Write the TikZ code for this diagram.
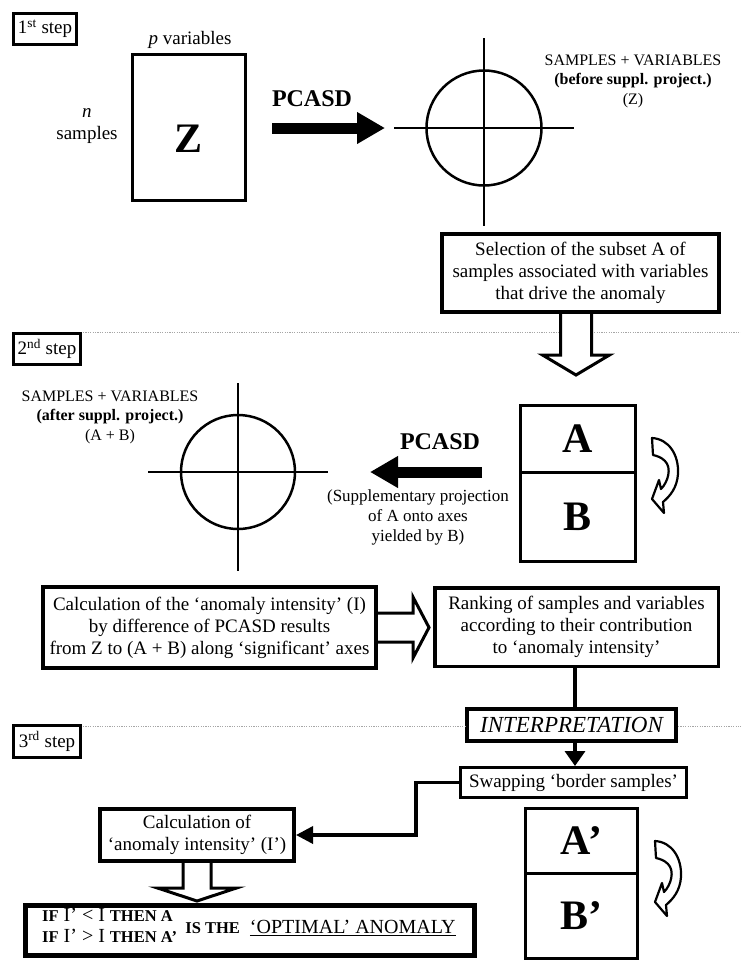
\documentclass[tikz,border=0pt]{standalone}
\usepackage{fontspec}
\setmainfont{Liberation Serif}
\usetikzlibrary{arrows.meta,calc}
\newcommand\myCurvArrow[1]{%
  \filldraw[fill=white,line width=2.2pt,line join=round,shift={#1}]
    (0,0) .. controls (17,1) and (27,17) .. (26,36)
    .. controls (25,50) and (18,58) .. (11,64)
    -- (12,75) -- (0,61) -- (7,42) -- (9,51)
    .. controls (16,44) and (20,30) .. (13,23)
    .. controls (9,19) and (5,18) .. (1,17) -- cycle;}
\begin{document}
\begin{tikzpicture}[x=1pt,y=-1pt,
  body/.style={font=\fontsize{19}{22}\selectfont},
  smallt/.style={font=\fontsize{16}{19.5}\selectfont,align=center},
  supp/.style={font=\fontsize{17}{20}\selectfont,align=center},
  pcasd/.style={font=\fontsize{24}{26}\selectfont\bfseries},
  big/.style={font=\fontsize{42}{44}\selectfont\bfseries},
  stepbox/.style={draw,line width=3pt,inner sep=0pt,minimum height=31pt,font=\fontsize{19}{21}\selectfont},
  tbox/.style={draw,inner sep=0pt,align=center,font=\fontsize{19}{22}\selectfont},
  dotl/.style={draw=gray!70,line width=1pt,dash pattern=on 1.2pt off 1.2pt},
  axis/.style={line width=2pt},
  hollow/.style={fill=white,draw=black,line width=3pt,line join=miter},
  blackarrow/.style={line width=11pt,-{Triangle[length=28pt 0 0,width=30pt 0]}},
  thinarrow/.style={line width=3.5pt,line join=miter},
]
\useasboundingbox (0,0) rectangle (741,962);
\fill[white] (0,0) rectangle (741,962);

% ---------- step labels and separators ----------
\node[stepbox,minimum width=63pt] (s1) at (45,29) {1\textsuperscript{st} step};
\node[stepbox,minimum width=67pt] (s2) at (47,349) {2\textsuperscript{nd} step};
\node[stepbox,minimum width=67pt,minimum height=32pt] (s3) at (47,741.5) {3\textsuperscript{rd} step};
\coordinate (rt1) at (741,332);
\coordinate (rt3) at (741,726);
\draw[dotl] (83,332) -- (rt1);

% ---------- step 1 ----------
\node[body] (pvar) at (190,40) {\textit{p} variables};
\node[body,align=center] (nsam) at (87,126) {\textit{n}\\samples};
\node[draw,line width=3pt,minimum width=113pt,minimum height=146pt,inner sep=0pt] (Z) at (189,127.5) {};
\node[big] (Zl) at (189,139) {Z};
\node[pcasd] (pc1) at (312,99) {PCASD};
\coordinate (p1s) at (272,128);
\coordinate (p1e) at (385,128);
\draw[blackarrow] (p1s) -- (p1e);
\node[circle,draw,line width=2.5pt,minimum size=115pt,inner sep=0pt] (c1) at (484,128) {};
\draw[axis] (394,128) -- (574,128);
\draw[axis] (484,38) -- (484,226);
\node[smallt] (t1) at (633,81) {SAMPLES + VARIABLES\\\textbf{(before suppl. project.)}\\(Z)};
\node[tbox,line width=4pt,minimum width=277pt,minimum height=78pt] (sel) at (580.5,273)
  {Selection of the subset A of\\samples associated with variables\\that drive the anomaly};

% hollow arrow sel -> AB
\filldraw[hollow] (560.5,314) -- (560.5,355) -- (542.5,355) -- (576,375) -- (609.5,355) -- (591.5,355) -- (591.5,314);

% ---------- step 2 ----------
\node[draw,line width=3pt,minimum width=115pt,minimum height=67pt,inner sep=0pt,big] (A) at (578,438.5) {A};
\node[draw,line width=3pt,minimum width=115pt,minimum height=89.5pt,inner sep=0pt,big] (B) at (578,516.75) {B};
\myCurvArrow{(652,438)}
\node[pcasd] (pc2) at (440,442) {PCASD};
\coordinate (p2s) at (482,472);
\coordinate (p2e) at (370,472);
\draw[blackarrow] (p2s) -- (p2e);
\node[supp] (sp) at (418,517) {(Supplementary projection\\of A onto axes\\yielded by B)};
\node[circle,draw,line width=2.5pt,minimum size=114pt,inner sep=0pt] (c2) at (238,472) {};
\draw[axis] (148,472) -- (328,472);
\draw[axis] (238,383) -- (238,571);
\node[smallt] (t2) at (110,417) {SAMPLES + VARIABLES\\\textbf{(after suppl. project.)}\\(A + B)};

\node[tbox,line width=4pt,minimum width=333pt,minimum height=81pt] (calc) at (209.5,627.5)
  {Calculation of the ‘anomaly intensity’ (I)\\by difference of PCASD results\\from Z to (A + B) along ‘significant’ axes};
\node[tbox,line width=3.5pt,minimum width=283.5pt,minimum height=78.5pt] (rank) at (576.5,627)
  {Ranking of samples and variables\\according to their contribution\\to ‘anomaly intensity’};
\filldraw[hollow] (378,613) -- (413,613) -- (413,597) -- (429,627.5) -- (413,658) -- (413,642) -- (378,642);

% ---------- step 3 ----------
\node[draw,line width=4pt,minimum width=209pt,minimum height=32pt,inner sep=0pt,font=\fontsize{23}{25}\selectfont\itshape] (interp) at (571.5,725) {INTERPRETATION};
\draw[dotl] (83,726) -- (interp.west |- rt3);
\draw[dotl] (interp.east |- rt3) -- (rt3);
\coordinate (vx) at (575,0);
\draw[thinarrow] (vx |- rank.south) -- (vx |- interp.north);
\node[tbox,line width=3pt,minimum width=226pt,minimum height=30pt] (swap) at (573.5,782.5) {Swapping ‘border samples’};
\draw[thinarrow,-{Triangle[length=15pt 0 0,width=20pt 0]}] (vx |- interp.south) -- (vx |- swap.north);

\node[draw,line width=3pt,minimum width=112pt,minimum height=64.5pt,inner sep=0pt,big] (A2) at (581.5,840.75) {A’};
\node[draw,line width=3pt,minimum width=112pt,minimum height=85.5pt,inner sep=0pt,big] (B2) at (581.5,915.75) {B’};
\myCurvArrow{(655,841)}

\node[tbox,line width=4pt,minimum width=194pt,minimum height=52pt] (calcI) at (197,835)
  {Calculation of\\‘anomaly intensity’ (I’)};
\coordinate (bend) at (416,0);
\draw[thinarrow,-{Triangle[length=17pt 0 0,width=17pt 0]}] (swap.west) -| (bend |- calcI.east) -- (calcI.east);

\filldraw[hollow] (183,863) -- (183,888) -- (157.5,888) -- (197,901) -- (236.5,888) -- (211,888) -- (211,863);

\node[draw,line width=5pt,minimum width=449pt,minimum height=50pt,inner sep=0pt] (ifbox) at (250,930.5) {};
\node[anchor=west,inner sep=0pt,font=\fontsize{20}{21}\selectfont] (iftext) at (42,928)
  {\begin{tabular}{@{}l@{}}{\fontsize{16.5}{17}\selectfont\bfseries IF} I’ < I {\fontsize{16.5}{17}\selectfont\bfseries THEN A}\\
   {\fontsize{16.5}{17}\selectfont\bfseries IF} I’ > I {\fontsize{16.5}{17}\selectfont\bfseries THEN A’}\end{tabular}
   \,{\fontsize{16.5}{17}\selectfont\bfseries IS THE}\ \ {\fontsize{20}{21}\selectfont\underline{‘OPTIMAL’ ANOMALY}}};
\end{tikzpicture}
\end{document}
